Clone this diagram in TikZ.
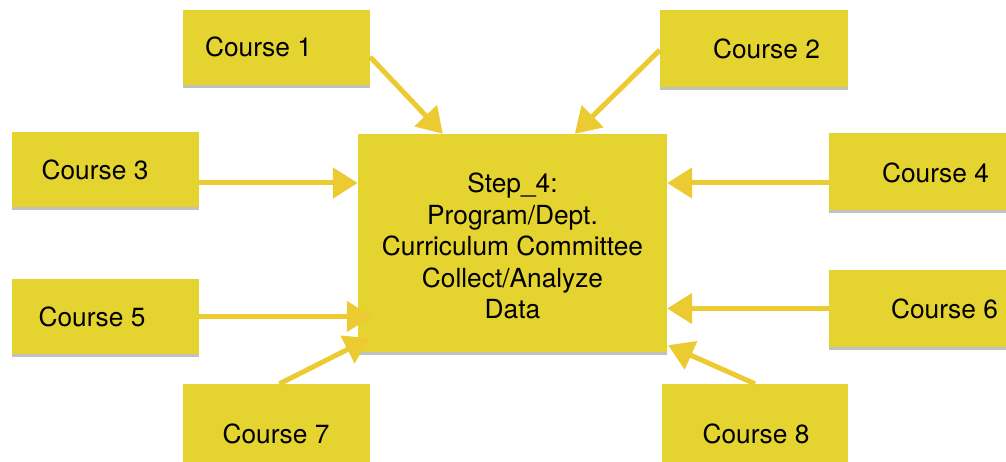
\documentclass[tikz,border=0pt]{standalone}
\usepackage{fontspec}
\setmainfont{TeX Gyre Heros}
\usetikzlibrary{arrows.meta,shadows,calc}
\definecolor{note}{RGB}{229,211,48}
\definecolor{arrowc}{RGB}{236,203,50}
\begin{document}
\begin{tikzpicture}[x=1pt,y=-1pt,
  notebox/.style={draw=none,fill=note,rectangle,inner sep=0pt,
    drop shadow={shadow xshift=0pt,shadow yshift=-3pt,opacity=0.35,fill=black!70}},
  lbl/.style={font=\fontsize{26.3}{31.5}\selectfont,text=black,inner sep=0pt,align=center},
  arr/.style={draw=arrowc,line width=5pt,-{Triangle[length=25pt,width=30pt]}}]
\useasboundingbox (0,0) rectangle (1006,462);
% boxes
\node[notebox,minimum width=187pt,minimum height=75pt] (c1) at (276.5,47.5) {};
\node[notebox,minimum width=188pt,minimum height=77pt] (c2) at (754,48.5) {};
\node[notebox,minimum width=187pt,minimum height=75pt] (c3) at (105.5,169.5) {};
\node[notebox,minimum width=187pt,minimum height=77pt] (c4) at (922.5,171.5) {};
\node[notebox,minimum width=187pt,minimum height=75pt] (c5) at (105.5,316.5) {};
\node[notebox,minimum width=187pt,minimum height=77pt] (c6) at (922.5,308.5) {};
\node[notebox,minimum width=187pt,minimum height=80pt] (c7) at (276.5,424) {};
\node[notebox,minimum width=186pt,minimum height=80pt] (c8) at (755,424) {};
\node[notebox,minimum width=309pt,minimum height=218pt] (main) at (512.5,243) {};
% labels
\node[lbl] (t1) at (258.5,47) {Course 1};
\node[lbl] (t2) at (766.5,49) {Course 2};
\node[lbl] (t3) at (95,170) {Course 3};
\node[lbl] (t4) at (935.5,173) {Course 4};
\node[lbl] (t5) at (92,317) {Course 5};
\node[lbl] (t6) at (944.5,309) {Course 6};
\node[lbl] (t7) at (276,434) {Course 7};
\node[lbl] (t8) at (756,434) {Course 8};
\node[lbl] (tm) at (512.5,246) {Step\_4:\\Program/Dept.\\Curriculum Committee\\Collect/Analyze\\Data};
% connectors
\coordinate (s1) at ([yshift=-9.5pt]c1.east);
\coordinate (e1) at ([xshift=85pt]main.north west);
\draw[arr] (s1) -- (e1);
\coordinate (s2) at ([yshift=-1.5pt]c2.west);
\coordinate (e2) at ([xshift=217pt]main.north west);
\draw[arr] (s2) -- (e2);
\coordinate (s3) at ([yshift=-13.5pt]c3.east);
\draw[arr] (s3) -- (s3 -| main.west);
\coordinate (s4) at ([yshift=-11.5pt]c4.west);
\draw[arr] (s4) -- (s4 -| main.east);
\coordinate (s5) at (c5.east);
\draw[arr] (s5) -- ($(s5 -| main.west)+(14,0)$);
\coordinate (s6) at (c6.west);
\draw[arr] (s6) -- (s6 -| main.east);
\coordinate (s7) at ([xshift=3pt]c7.north);
\coordinate (e7) at ([xshift=12pt,yshift=14pt]main.south west);
\draw[arr] (s7) -- (e7);
\coordinate (s8) at (c8.north);
\coordinate (e8) at ([xshift=1pt,yshift=7pt]main.south east);
\draw[arr] (s8) -- (e8);
\end{tikzpicture}
\end{document}
